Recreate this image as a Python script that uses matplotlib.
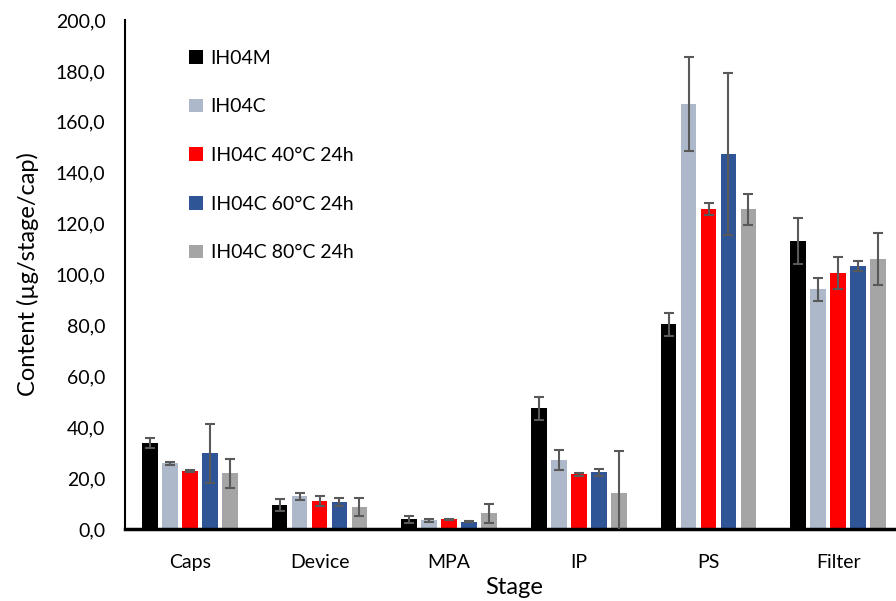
import matplotlib
matplotlib.use("Agg")
import matplotlib.pyplot as plt
import numpy as np
from matplotlib.ticker import FuncFormatter

stages = ["Caps", "Device", "MPA", "IP", "PS", "Filter"]
series_names = ["IH04M", "IH04C", "IH04C 40°C 24h", "IH04C 60°C 24h", "IH04C 80°C 24h"]

ih04m = [33.7, 9.4, 3.8, 47.5, 80.4, 113.2]
ih04m_err = [2.0, 2.2, 1.4, 4.5, 4.6, 9.1]
ih04c = [25.9, 12.8, 3.4, 27.1, 167.0, 94.2]
ih04c_err = [0.6, 1.5, 0.7, 4.1, 18.6, 4.5]
ih04c_40 = [22.8, 11.0, 3.8, 21.5, 125.7, 100.5]
ih04c_40_err = [0.3, 1.8, 0.3, 0.6, 2.5, 6.2]
ih04c_60 = [29.7, 10.7, 2.8, 22.3, 147.3, 103.3]
ih04c_60_err = [11.6, 1.5, 0.2, 1.4, 31.8, 2.0]
ih04c_80 = [22.0, 8.6, 6.2, 14.0, 125.6, 106.2]
ih04c_80_err = [5.7, 3.4, 3.8, 16.5, 6.2, 10.2]

values = [ih04m, ih04c, ih04c_40, ih04c_60, ih04c_80]
errors = [ih04m_err, ih04c_err, ih04c_40_err, ih04c_60_err, ih04c_80_err]
colors = ["#000000", "#ADB9CA", "#FF0000", "#2F5597", "#A5A5A5"]

plt.rcParams["font.family"] = ["Lato", "DejaVu Sans"]

fig = plt.figure(figsize=(8.96, 6.01), dpi=100)
ax = fig.add_axes([125 / 896, 1 - 529 / 601, (903 - 125) / 896, (529 - 20) / 601])

x = np.arange(len(stages))
step = 0.154
width = 0.12
for i, (vals, errs, col, name) in enumerate(zip(values, errors, colors, series_names)):
    pos = x + (i - 2) * step
    ax.bar(pos, vals, width=width, color=col, label=name, zorder=2)
    ax.errorbar(pos, vals, yerr=errs, fmt="none", ecolor="#595959",
                elinewidth=1.5, capsize=3.5, capthick=1.5, zorder=3)

ax.set_xlim(-0.5, len(stages) - 0.5)
ax.set_ylim(0, 200)
ax.set_yticks(np.arange(0, 201, 20))
ax.yaxis.set_major_formatter(FuncFormatter(lambda v, p: f"{v:.1f}".replace(".", ",")))
ax.set_xticks(x)
ax.set_xticklabels(stages)

for side in ["top", "right"]:
    ax.spines[side].set_visible(False)
ax.spines["left"].set_linewidth(1.5)
ax.spines["bottom"].set_linewidth(2.5)
ax.tick_params(axis="both", length=0, labelsize=14, colors="#000000")
ax.tick_params(axis="y", pad=14)
ax.tick_params(axis="x", pad=18)

ax.set_ylabel("Content (µg/stage/cap)", fontsize=17, labelpad=12)
ax.set_xlabel("Stage", fontsize=17, labelpad=4)

ax.legend(loc="upper left", bbox_to_anchor=(0.06, 0.976), frameon=False,
          fontsize=14, handlelength=0.7, handleheight=0.7, handletextpad=0.4,
          labelspacing=1.63)

fig.savefig("out.png", dpi=100)
